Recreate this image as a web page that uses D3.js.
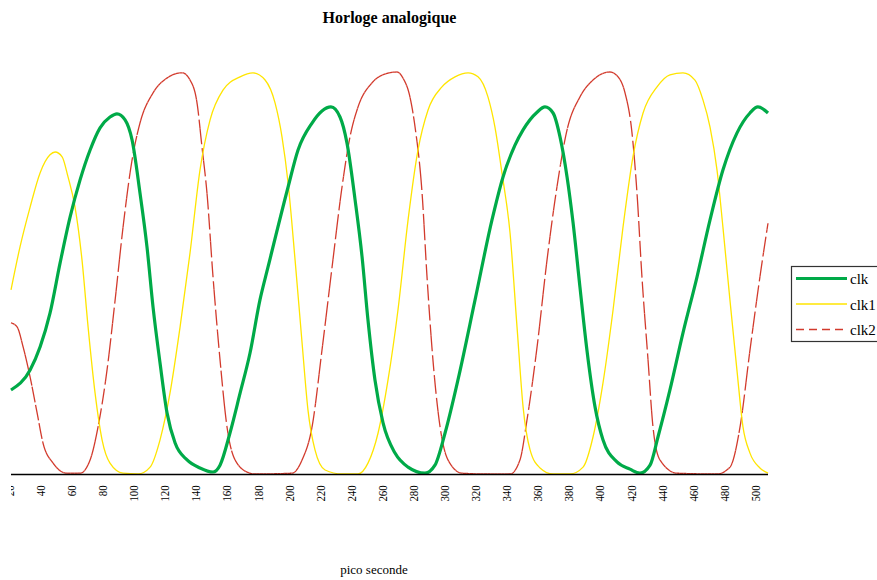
<!DOCTYPE html>
<html>
<head>
<meta charset="utf-8">
<script src="https://cdn.jsdelivr.net/npm/d3@7"></script>
<style>
  html, body { margin: 0; padding: 0; background: #fff; }
  svg { display: block; }
  text { font-family: "Liberation Serif", "Times New Roman", serif; fill: #000; }
</style>
</head>
<body>
<svg id="chart" width="877" height="580"></svg>
<script>
// Three clock waveforms sampled over time (ps), amplitude normalised 0..1
const clkTime = [21.3,33.6,40,46.4,52.9,59.3,65.7,72.2,78.6,85.0,89.5,94.7,99.2,104.3,108.8,112.7,117.2,121.7,126.9,134.6,142.9,151.3,155.8,162.2,168.7,175.1,181.5,186.7,199.6,206.0,215.0,221.4,227.2,233.0,237.5,242.7,247.2,251.0,255.5,260.7,268.4,276.8,287.7,294.1,300.6,308.9,319.9,330.8,337.9,345.6,350.8,359.8,364.9,370.1,374.6,379.1,383.0,387.4,391.9,397.1,402.2,411.2,419.6,426.0,432.5,437.6,445.3,453.7,462.7,471.1,479.4,488.4,496.8,501.9,508.4];
const clkValue = [0.209,0.259,0.316,0.400,0.525,0.639,0.731,0.806,0.861,0.888,0.896,0.881,0.831,0.699,0.565,0.415,0.276,0.152,0.077,0.035,0.015,0.005,0.022,0.102,0.201,0.301,0.433,0.515,0.714,0.806,0.873,0.903,0.913,0.888,0.823,0.682,0.540,0.383,0.234,0.127,0.052,0.017,0.002,0.022,0.102,0.234,0.433,0.632,0.739,0.818,0.856,0.900,0.913,0.898,0.838,0.739,0.624,0.465,0.308,0.167,0.085,0.030,0.012,0.002,0.022,0.092,0.209,0.351,0.490,0.632,0.756,0.848,0.898,0.913,0.898];

const clk1Time = [21.3,27.1,33.6,40,46.4,49.7,54.2,58.0,62.5,67.0,70.9,75.4,79.9,85.0,93.4,103.1,110.8,117.2,123.6,130.1,136.5,142.9,149.4,157.7,168.7,177.0,184.8,191.2,195.7,199.6,204.1,208.6,212.4,216.9,223.4,234.3,244.6,251.0,257.5,263.9,270.3,276.8,283.2,289.6,298.6,307.0,315.4,321.8,328.2,332.7,337.2,342.4,346.9,350.8,355.3,361.7,370.1,381.0,389.4,395.8,402.2,408.7,415.1,421.5,428.0,437.0,445.3,453.7,461.4,466.6,471.1,475.6,479.4,483.9,488.4,492.3,496.8,503.2,508.4];
const clk1Value = [0.458,0.565,0.664,0.749,0.794,0.801,0.789,0.739,0.664,0.532,0.366,0.201,0.085,0.027,0.002,0.000,0.017,0.085,0.201,0.366,0.550,0.756,0.881,0.955,0.988,0.998,0.980,0.923,0.838,0.724,0.532,0.326,0.159,0.060,0.010,0.000,0.000,0.027,0.102,0.234,0.408,0.632,0.806,0.905,0.963,0.988,0.998,0.988,0.938,0.863,0.749,0.600,0.366,0.167,0.060,0.015,0.000,0.000,0.017,0.092,0.226,0.408,0.614,0.789,0.898,0.963,0.993,0.998,0.980,0.930,0.863,0.756,0.614,0.433,0.259,0.117,0.052,0.015,0.002];

const clk2Time = [21.3,25.2,29.1,33.6,38.1,41.9,48.4,57.4,65.7,72.2,77.3,83.1,88.3,93.4,99.2,104.3,112.7,121.7,131.4,136.5,141.0,144.2,147.4,151.3,155.8,160.3,166.7,175.1,178.3,202.1,208.6,215.0,221.4,227.9,234.3,239.4,244.6,253.6,262.0,269.7,273.5,278.0,281.3,285.8,289.0,292.8,297.4,302.5,311.5,328.2,342.4,348.8,353.3,359.8,366.2,372.6,379.1,387.4,395.8,406.7,411.9,416.4,420.9,424.1,427.3,431.2,434.4,438.9,449.8,475.6,483.9,490.4,496.8,503.2,508.4];
const clk2Value = [0.376,0.366,0.316,0.241,0.152,0.077,0.027,0.002,0.002,0.035,0.117,0.259,0.433,0.614,0.781,0.873,0.948,0.985,0.998,0.980,0.923,0.813,0.699,0.490,0.284,0.117,0.027,0.002,0.000,0.002,0.035,0.117,0.308,0.515,0.714,0.838,0.913,0.973,0.995,1.000,0.985,0.938,0.863,0.699,0.490,0.284,0.117,0.035,0.002,0.000,0.000,0.035,0.134,0.316,0.532,0.714,0.856,0.938,0.980,1.000,0.988,0.948,0.848,0.699,0.490,0.284,0.117,0.035,0.002,0.000,0.017,0.117,0.308,0.490,0.624];

const tickLabels = [20,40,60,80,100,120,140,160,180,200,220,240,260,280,300,320,340,360,380,400,420,440,460,480,500];
const seriesNames = ["clk", "clk1", "clk2"];

const svg = d3.select("#chart");
const plot = { left: 11, right: 768, top: 72, bottom: 474 };

const x = d3.scaleLinear().domain([21.3, 508.4]).range([plot.left, plot.right]);
const y = d3.scaleLinear().domain([0, 1]).range([plot.bottom, plot.top]);

const series = [
  { name: seriesNames[0], t: clkTime,  v: clkValue,  color: "#00aa48", width: 3.2, dash: null },
  { name: seriesNames[1], t: clk1Time, v: clk1Value, color: "#ffe500", width: 1.3, dash: null },
  { name: seriesNames[2], t: clk2Time, v: clk2Value, color: "#d23a2c", width: 1.3, dash: "16,4" }
];

// Clip for the tick labels (those left of the plot are cut off);
// coordinates are in the translated axis group
const defs = svg.append("defs");
defs.append("clipPath").attr("id", "axisClip")
  .append("rect").attr("x", plot.left).attr("y", -2)
  .attr("width", 900).attr("height", 60);

// Title
svg.append("text")
  .attr("x", (plot.left + plot.right) / 2).attr("y", 23)
  .attr("text-anchor", "middle")
  .style("font-size", "16px").style("font-weight", "bold")
  .text("Horloge analogique");

// Curves (drawn back to front: clk2, clk1, clk)
const line = d3.line().x(d => x(d[0])).y(d => y(d[1])).curve(d3.curveMonotoneX);
[series[2], series[1], series[0]].forEach(s => {
  const pts = s.t.map((t, i) => [t, s.v[i]]);
  const path = svg.append("path")
    .attr("d", line(pts))
    .attr("fill", "none")
    .attr("stroke", s.color)
    .attr("stroke-width", s.width)
    .attr("stroke-linejoin", "round");
  if (!s.dash) return;

  // Dashed series: the dash pattern restarts on every short step along x,
  // so flat stretches stay solid and steep edges show the dashes.
  const node = path.node();
  const total = node.getTotalLength();
  const step = 3.5;
  const chunks = [];
  let cur = [];
  let cut = plot.left + step;
  for (let l = 0; l <= total; l += 0.4) {
    const p = node.getPointAtLength(l);
    cur.push([p.x, p.y]);
    if (p.x >= cut) {
      chunks.push(cur);
      cur = [[p.x, p.y]];
      while (cut <= p.x) cut += step;
    }
  }
  if (cur.length > 1) chunks.push(cur);
  path.remove();
  const g = svg.append("g");
  chunks.forEach(c => {
    g.append("path")
      .attr("d", d3.line()(c))
      .attr("fill", "none")
      .attr("stroke", s.color)
      .attr("stroke-width", s.width)
      .attr("stroke-dasharray", s.dash);
  });
});

// X axis
const axis = d3.axisBottom(x).tickValues(tickLabels).tickSize(0).tickFormat(d3.format("d"));
const gx = svg.append("g")
  .attr("transform", `translate(0,${plot.bottom})`)
  .attr("clip-path", "url(#axisClip)")
  .call(axis);
gx.select(".domain").remove();
gx.selectAll(".tick text")
  .attr("transform", "rotate(-90) scale(0.84,1)")
  .attr("x", -13.4).attr("y", 0).attr("dy", "0.34em")
  .attr("text-anchor", "end")
  .style("font-family", "'Liberation Serif', serif")
  .style("font-size", "13px");
svg.append("line")
  .attr("x1", plot.left).attr("x2", plot.right)
  .attr("y1", plot.bottom + 0.5).attr("y2", plot.bottom + 0.5)
  .attr("stroke", "#000").attr("stroke-width", 1.6);

// Axis title
svg.append("text")
  .attr("x", 374).attr("y", 574)
  .attr("text-anchor", "middle")
  .style("font-size", "13px")
  .text("pico seconde");

// Legend
const lg = svg.append("g").attr("transform", "translate(791,266)");
lg.append("rect").attr("x", 0.5).attr("y", 0.5).attr("width", 110).attr("height", 75)
  .attr("fill", "#fff").attr("stroke", "#333").attr("stroke-width", 1.2);
series.forEach((s, i) => {
  const yy = 12.5 + i * 25.5;
  lg.append("line").attr("x1", 5).attr("x2", 56).attr("y1", yy).attr("y2", yy)
    .attr("stroke", s.color).attr("stroke-width", s.width)
    .attr("stroke-dasharray", s.dash ? "8,5" : null);
  lg.append("text").attr("x", 59).attr("y", yy + 5.5)
    .style("font-size", "15px").text(s.name);
});
</script>
</body>
</html>
